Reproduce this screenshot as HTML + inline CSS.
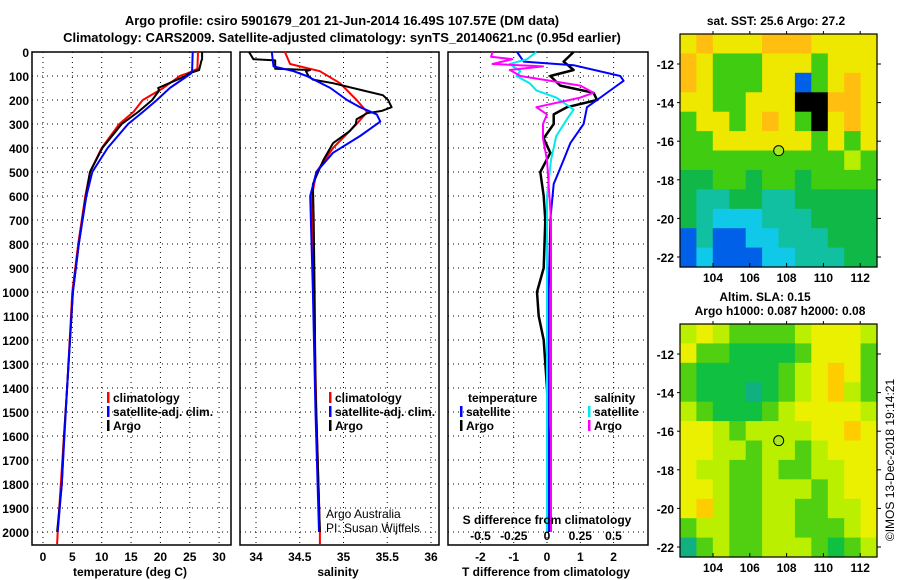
<!DOCTYPE html>
<html><head><meta charset="utf-8">
<style>
html,body{margin:0;padding:0;background:#fff;}
svg{display:block;font-family:"Liberation Sans",sans-serif;}
.b{font-weight:bold;font-size:13px;}
.t{font-weight:bold;font-size:12px;}
</style></head>
<body>
<svg id="c" width="900" height="580" xmlns="http://www.w3.org/2000/svg"></svg>
<script>
const tArgoD=[0,30,35,75,90,100,130,150,160,200,250,300,400,500,600,800,1000,1200,1400,1600,1800,2000];
const tArgoV=[27.1,27.1,27.0,26.6,24.8,24.3,21.5,19.6,19.8,18.6,16.2,13.4,10.1,8.0,7.3,6.1,5.1,4.6,4.1,3.6,3.2,2.4];
const tClimD=[0,70,90,100,150,200,250,300,400,500,600,800,1000,1400,1700,2000,2050];
const tClimV=[26.4,26.3,24.5,23.3,20.5,17.0,15.4,13.0,10.0,8.0,7.2,6.0,5.0,4.1,3.3,2.5,2.4];
const tSatD=[0,80,90,100,150,200,250,300,400,500,600,800,1000,1400,1800,2000];
const tSatV=[25.5,25.4,25.2,24.6,21.6,19.4,17.0,14.5,11.0,8.4,7.4,6.1,5.1,4.1,3.2,2.5];
const sArgoD=[0,30,35,70,75,80,100,115,130,160,180,200,230,245,255,280,300,330,380,450,550,700,1000,1400,2000];
const sArgoV=[33.92,33.97,34.22,34.22,34.62,34.57,34.60,34.65,34.88,35.22,35.45,35.51,35.55,35.44,35.27,35.15,35.14,35.07,34.88,34.77,34.65,34.66,34.67,34.68,34.73];
const sClimD=[0,50,80,130,200,250,300,400,500,600,700,1000,1500,2000,2050];
const sClimV=[34.33,34.39,34.73,34.96,35.15,35.27,35.15,34.88,34.69,34.64,34.64,34.66,34.69,34.73,34.73];
const sSatD=[0,60,80,100,150,200,230,260,290,350,420,500,600,1000,1500,2000];
const sSatV=[34.18,34.20,34.43,34.58,34.85,35.04,35.19,35.38,35.42,35.19,34.88,34.69,34.62,34.65,34.68,34.72];
const dTArgoD=[0,40,75,100,140,170,200,230,260,300,360,420,500,600,700,900,1000,1100,1200,1400,1600,2000];
const dTArgoV=[0.8,0.5,0.8,0.1,0.4,1.4,1.5,0.6,0.2,0.2,-0.1,0.1,-0.2,-0.1,-0.05,-0.1,-0.3,-0.25,-0.1,0.0,0.05,0.05];
const dTSatD=[0,40,55,100,120,150,200,230,300,380,450,550,700,1000,2000];
const dTSatV=[-0.9,-0.7,0.8,2.2,2.3,2.0,1.5,1.2,1.1,0.7,0.5,0.2,0.1,0.05,0.05];
const dSArgoD=[0,20,30,50,60,75,100,140,170,190,230,260,300,360,450,700,2000];
const dSArgoV=[-0.41,-0.42,-0.26,-0.41,-0.03,-0.28,-0.2,0.25,0.35,0.25,-0.08,0.0,-0.03,-0.03,0.0,0.03,0.03];
const dSSatD=[0,30,50,80,100,130,160,190,240,280,350,450,600,2000];
const dSSatV=[-0.08,-0.15,-0.28,-0.2,-0.23,-0.13,-0.08,0.07,0.2,0.15,0.07,0.03,0.0,0.0];
const depthTicks=[0,100,200,300,400,500,600,700,800,900,1000,1100,1200,1300,1400,1500,1600,1700,1800,1900,2000];
const tTicks=[0,5,10,15,20,25,30];
const sTicks=[34,34.5,35,35.5,36];
const dtTicks=[-2,-1,0,1,2];
const dsTicks=[-0.5,-0.25,0,0.25,0.5];
const lonTicks=[104,106,108,110,112];
const latTicks=[-12,-14,-16,-18,-20,-22];
const map1Rows=["YOYYYOOOYYYY","OYGGGYYYGYYY","OYGGGYYBGYOY","YYGGYYYKKOOY","GYYGYOYGKYOY","GGYYYYYYGYGY","GGGGGGGGGGLG","DDGGDGGDGGGG","DTTDDTTDDDDD","DTCCCTTTDDDD","BTBBCCTTTDDD","BCBBBCCTTTDD"];
const map2Rows=["LYLGGGGLYYYL","YGGDDDDGYYYG","GDDDDDGLYOYG","GDDDTDGLYOLG","LGDDDGLYYYYL","YYLGLLLLYYOY","YYLLGLLGLYYY","YLLGGLGGLLYY","YYLGGLLLGLYY","YOLGGLLGGLLY","GLLGGLLGGGLY","TGLGGLLLGDGL"];
const pal1={Y:"#eee800",O:"#ffbe10",G:"#40cc10",L:"#b8ee00",D:"#10b848",T:"#10c0a0",C:"#10c8e8",B:"#0060e8",K:"#000000"};
const pal2={Y:"#eaf000",O:"#ffcc00",G:"#50d010",L:"#baf000",D:"#10c040",T:"#10b080"};

const NS="http://www.w3.org/2000/svg";
const svg=document.getElementById('c');
function el(tag,attrs,parent){const e=document.createElementNS(NS,tag);for(const k in attrs)e.setAttribute(k,attrs[k]);(parent||svg).appendChild(e);return e;}
function txt(s,x,y,cls,anchor,parent){const e=el('text',{x:x,y:y,class:cls,'text-anchor':anchor||'middle'},parent);e.textContent=s;return e;}

const Y0=52,PB=545;
const yD=d=>Y0+d*0.24;
const xT=v=>43+v*5.87;
const xS=v=>256+(v-34)*87.5;
const xDT=v=>547+v*33.3;
const xDS=v=>547+v*133;

function panel(name,x0,x1,gridX){
  const g=el('g',{});
  
  
  gridX.forEach(x=>{el('line',{x1:x,x2:x,y1:Y0,y2:PB,stroke:'#000','stroke-dasharray':'1,4','stroke-width':1},g);});
  depthTicks.forEach(d=>{el('line',{x1:x0,x2:x1,y1:yD(d),y2:yD(d),stroke:'#000','stroke-dasharray':'1,4','stroke-width':1},g);});
  el('rect',{x:x0,y:Y0,width:x1-x0,height:PB-Y0,fill:'none',stroke:'#000','stroke-width':1.5},g);
  return g;
}
function line(g,D,V,fx,col,name,w){
  const pts=D.map((d,i)=>fx(V[i]).toFixed(1)+','+yD(d).toFixed(1)).join(' ');
  const p=el('polyline',{points:pts,fill:'none',stroke:col,'stroke-width':w||2,'stroke-linejoin':'round'},g);
  
  
}
function legendEntry(g,x,y,col,label,name){
  el('rect',{x:x,y:y-10,width:2.5,height:11,fill:col},g);
  const t=txt(label,x+6,y,'t','start',g);
  
  
}

const t1=txt('Argo profile: csiro 5901679_201 21-Jun-2014 16.49S 107.57E (DM data)',342,25,'b');


const t2=txt('Climatology: CARS2009. Satellite-adjusted climatology: synTS_20140621.nc (0.95d earlier)',342,42,'b');



depthTicks.forEach(d=>{const t=txt(String(d),29,yD(d)+5,'t','end');});

const p1=panel('temperature-panel',32,231,tTicks.map(xT));
line(p1,tClimD,tClimV,xT,'#ff0000','climatology-temperature-line');
line(p1,tArgoD,tArgoV,xT,'#000000','argo-temperature-line');
line(p1,tSatD,tSatV,xT,'#0000ff','satellite-temperature-line');
tTicks.forEach(v=>{const t=txt(String(v),xT(v),561,'t');});
const xl1=txt('temperature (deg C)',130,576,'t');
legendEntry(p1,107,402,'#ff0000','climatology','legend-climatology');
legendEntry(p1,107,416,'#0000ff','satellite-adj. clim.','legend-satellite');
legendEntry(p1,107,430,'#000000','Argo','legend-argo');

const p2=panel('salinity-panel',240,439,sTicks.map(xS));
line(p2,sClimD,sClimV,xS,'#ff0000','climatology-salinity-line');
line(p2,sArgoD,sArgoV,xS,'#000000','argo-salinity-line');
line(p2,sSatD,sSatV,xS,'#0000ff','satellite-salinity-line');
sTicks.forEach(v=>{const t=txt(String(v),xS(v),561,'t');});
const xl2=txt('salinity',338,576,'t');
legendEntry(p2,329,402,'#ff0000','climatology','legend-climatology-2');
legendEntry(p2,329,416,'#0000ff','satellite-adj. clim.','legend-satellite-2');
legendEntry(p2,329,430,'#000000','Argo','legend-argo-2');
const a1=txt('Argo Australia',326,518,'','start',p2);a1.setAttribute('font-size','12');
const a2=txt('PI: Susan Wijffels',326,532,'','start',p2);a2.setAttribute('font-size','12');

const p3=panel('difference-panel',448,648,dtTicks.map(xDT));
line(p3,dTArgoD,dTArgoV,xDT,'#000000','argo-t-difference-line',2.5);
line(p3,dTSatD,dTSatV,xDT,'#0000ff','satellite-t-difference-line');
line(p3,dSSatD,dSSatV,xDS,'#00e8f0','satellite-s-difference-line');
line(p3,dSArgoD,dSArgoV,xDS,'#ff00ff','argo-s-difference-line');
dtTicks.forEach(v=>{const t=txt(String(v),xDT(v),561,'t');});
const xl3=txt('T difference from climatology',546,576,'t');
const sl=txt('S difference from climatology',547,524,'t');
dsTicks.forEach(v=>{const t=txt(String(v),xDS(v),540,'t');});
const lt=txt('temperature',468,402,'t','start');
const ls=txt('salinity',594,402,'t','start');
legendEntry(p3,460,416,'#0000ff','satellite','legend-t-satellite');
legendEntry(p3,460,430,'#000000','Argo','legend-t-argo');
legendEntry(p3,588,416,'#00e8f0','satellite','legend-s-satellite');
legendEntry(p3,588,430,'#ff00ff','Argo','legend-s-argo');

const lonX=v=>713+(v-104)*18.4;
function drawMap(name,top,rows,pal){
  const g=el('g',{});
  
  
  const x0=680,x1=877,y1=top+233,nc=rows[0].length,nr=rows.length;
  const cw=(x1-x0)/nc,ch=(y1-top)/nr;
  const latY=v=>top+30+(-12-v)*19.3;
  rows.forEach((r,i)=>{[...r].forEach((k,j)=>{
    const c=el('rect',{x:(x0+j*cw).toFixed(1),y:(top+i*ch).toFixed(1),width:(cw+0.6).toFixed(1),height:(ch+0.6).toFixed(1),fill:pal[k]},g);
    
    
  });});
  el('rect',{x:x0,y:top,width:x1-x0,height:y1-top,fill:'none',stroke:'#000','stroke-width':1.2},g);
  lonTicks.forEach(v=>{el('line',{x1:lonX(v),x2:lonX(v),y1:y1,y2:y1-4,stroke:'#000'},g);el('line',{x1:lonX(v),x2:lonX(v),y1:top,y2:top-3,stroke:'#000'},g);
    const t=txt(String(v),lonX(v),y1+15,'t','middle',g);});
  latTicks.forEach(v=>{el('line',{x1:x1,x2:x1+4,y1:latY(v),y2:latY(v),stroke:'#000'},g);
    el('line',{x1:x0,x2:x0-3,y1:latY(v),y2:latY(v),stroke:'#000'},g);
    const t=txt(String(v),674,latY(v)+5,'t','end',g);});
  const m=el('circle',{cx:lonX(107.57),cy:latY(-16.49),r:5,fill:'#a8e820',stroke:'#000','stroke-width':1},g);
  
  
  return g;
}
drawMap('sst-map',34,map1Rows,pal1);
drawMap('sla-map',324,map2Rows,pal2);
const mt1=txt('sat. SST: 25.6 Argo: 27.2',776,25,'t');
const mt2=txt('Altim. SLA: 0.15',765,301,'t');
const mt3=txt('Argo h1000: 0.087 h2000: 0.08',780,315,'t');
const cr=txt('©IMOS 13-Dec-2018 19:14:21',0,0,'','middle');
cr.setAttribute('font-size','12');
cr.setAttribute('transform','translate(894,460) rotate(-90)');


</script>
</body></html>
